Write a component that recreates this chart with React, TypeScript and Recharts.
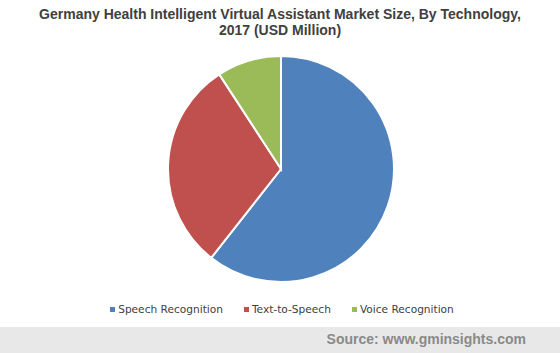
import React from 'react';
import { PieChart, Pie, Cell } from 'recharts';

const categories = ['Speech Recognition', 'Text-to-Speech', 'Voice Recognition'];
const values = [60.6, 30.2, 9.2];
const colors = ['#4f81bd', '#c0504d', '#9bbb59'];
const titleLines = ['Germany Health Intelligent Virtual Assistant Market Size, By Technology,', '2017 (USD Million)'];
const sourceText = 'Source: www.gminsights.com';

const data = categories.map((name, i) => ({ name, value: values[i] }));

export default function App() {
  return (
    <div style={{ position: 'absolute', left: 0, top: 0, width: 560, height: 353, background: '#fff', overflow: 'hidden' }}>
      <div style={{ position: 'absolute', left: 0, top: 6, width: 560, textAlign: 'center', fontFamily: 'Liberation Sans, Arial, sans-serif', fontWeight: 'bold', fontSize: 14, lineHeight: '16px', color: '#404040' }}>
        {titleLines.map((t, i) => <div key={i}>{t}</div>)}
      </div>
      <PieChart width={560} height={353} margin={{ top: 0, right: 0, bottom: 0, left: 0 }} style={{ position: 'absolute', left: 0, top: 0 }}>
        <Pie
          data={data}
          dataKey="value"
          nameKey="name"
          cx={281}
          cy={169}
          outerRadius={113}
          startAngle={90}
          endAngle={-270}
          stroke="#ffffff"
          strokeWidth={2}
          isAnimationActive={false}
        >
          {data.map((d, i) => <Cell key={d.name} fill={colors[i]} />)}
        </Pie>
      </PieChart>
      <div style={{ position: 'absolute', left: 0, top: 302, width: 560, display: 'flex', justifyContent: 'center', fontFamily: 'DejaVu Sans, Verdana, sans-serif', fontSize: 10.6, lineHeight: '14px', color: '#404040', paddingLeft: 2 }}>
        {data.map((d, i) => (
          <div key={d.name} style={{ display: 'flex', alignItems: 'center', marginRight: i < data.length - 1 ? 21 : 0 }}>
            <span style={{ display: 'inline-block', width: 5, height: 5, background: colors[i], marginRight: 3 }} />
            <span>{d.name}</span>
          </div>
        ))}
      </div>
      <div style={{ position: 'absolute', left: 0, top: 327, width: 560, height: 26, background: '#e8e8e8' }}>
        <div style={{ position: 'absolute', right: 34, top: 4, fontFamily: 'Liberation Sans, Arial, sans-serif', fontWeight: 'bold', fontSize: 14, color: '#8a8a8a' }}>{sourceText}</div>
      </div>
    </div>
  );
}
